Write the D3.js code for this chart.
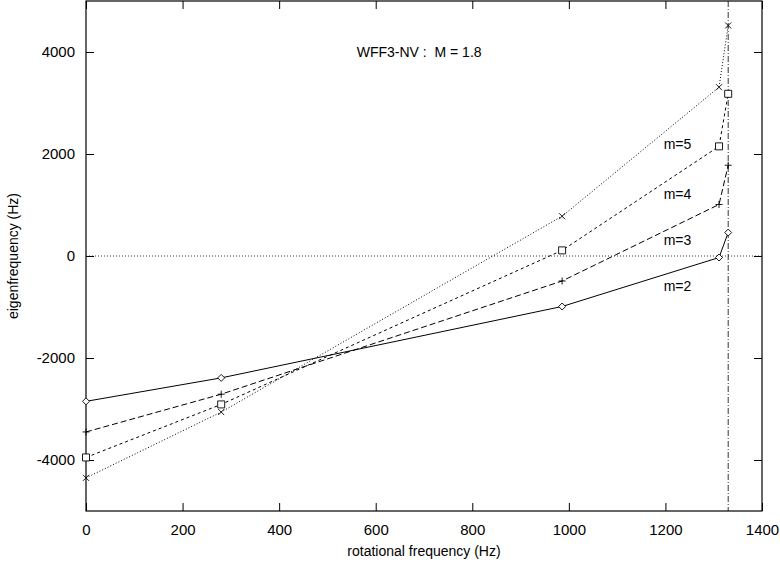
<!DOCTYPE html>
<html>
<head>
<meta charset="utf-8">
<script src="https://d3js.org/d3.v7.min.js"></script>
<style>
  body { margin: 0; background: #fff; }
  svg text { font-family: "Liberation Sans", Arial, Helvetica, sans-serif; fill: #000; }
</style>
</head>
<body>
<div id="chart"></div>
<script>

// Data
var rotFreq = [0, 280, 986, 1311, 1330];
var eigM2 = [-2850, -2390, -990, -30, 460];
var eigM3 = [-3450, -2710, -490, 1010, 1780];
var eigM4 = [-3950, -2910, 110, 2150, 3180];
var eigM5 = [-4350, -3060, 780, 3310, 4520];
var modeNames = ["m=2", "m=3", "m=4", "m=5"];
var xTicks = [0, 200, 400, 600, 800, 1000, 1200, 1400];
var yTicks = [-4000, -2000, 0, 2000, 4000];
var keplerFreq = 1330;
var titleText = "WFF3-NV :  M = 1.8";

var margin = {top: 1, right: 18, bottom: 52, left: 86};
var width = 780 - margin.left - margin.right,
    height = 563 - margin.top - margin.bottom;

var svg = d3.select("#chart").append("svg")
    .attr("width", 780)
    .attr("height", 563)
    .append("g")
    .attr("transform", "translate(" + margin.left + "," + margin.top + ")");

var x = d3.scaleLinear().domain([0, 1400]).range([0, width]);
var y = d3.scaleLinear().domain([-5000, 5000]).range([height, 0]);

// plain hyphen for negatives, like the original plot
var fmt = function(d) { return String(d); };

// Axes (gnuplot-style inward ticks on all four sides)
var tickLen = 8;
svg.append("g")
    .attr("transform", "translate(0," + height + ")")
    .call(d3.axisBottom(x).tickValues(xTicks).tickSize(-tickLen).tickPadding(tickLen + 5).tickFormat(fmt))
    .call(function(g) { g.select(".domain").remove(); });
svg.append("g")
    .call(d3.axisTop(x).tickValues(xTicks).tickSize(-tickLen).tickFormat(""))
    .call(function(g) { g.select(".domain").remove(); });
svg.append("g")
    .call(d3.axisLeft(y).tickValues(yTicks).tickSize(-tickLen).tickPadding(tickLen + 3).tickFormat(fmt))
    .call(function(g) { g.select(".domain").remove(); });
svg.append("g")
    .attr("transform", "translate(" + width + ",0)")
    .call(d3.axisRight(y).tickValues(yTicks).tickSize(-tickLen).tickFormat(""))
    .call(function(g) { g.select(".domain").remove(); });

svg.selectAll(".tick text").attr("font-size", 15).attr("font-family", "Liberation Sans, Arial, sans-serif");
svg.selectAll(".tick line").attr("stroke", "#000");

// Frame
svg.append("rect")
    .attr("x", 0).attr("y", 0)
    .attr("width", width).attr("height", height)
    .attr("fill", "none")
    .attr("stroke", "#000")
    .attr("stroke-width", 1.2);

// Zero line
svg.append("line")
    .attr("x1", 0).attr("x2", width)
    .attr("y1", y(0)).attr("y2", y(0))
    .attr("stroke", "#000").attr("stroke-width", 0.8)
    .attr("stroke-dasharray", "1,2");

// Kepler limit line
svg.append("line")
    .attr("x1", x(keplerFreq)).attr("x2", x(keplerFreq))
    .attr("y1", 0).attr("y2", height)
    .attr("stroke", "#000").attr("stroke-width", 0.8)
    .attr("stroke-dasharray", "6,2,1,2");

// Series
var series = [
    {name: modeNames[0], values: eigM2, dash: null, marker: "diamond"},
    {name: modeNames[1], values: eigM3, dash: "6,3", marker: "plus"},
    {name: modeNames[2], values: eigM4, dash: "3,3", marker: "square"},
    {name: modeNames[3], values: eigM5, dash: "1,2", marker: "cross"}
];

var line = d3.line()
    .x(function(d) { return x(d[0]); })
    .y(function(d) { return y(d[1]); });

var markerPath = {
    diamond: "M0,-3.5L3.5,0L0,3.5L-3.5,0Z",
    plus: "M-3.5,0L3.5,0M0,-3.5L0,3.5",
    square: "M-3.5,-3.5L3.5,-3.5L3.5,3.5L-3.5,3.5Z",
    cross: "M-3,-3L3,3M-3,3L3,-3"
};

series.forEach(function(s) {
    var pts = rotFreq.map(function(f, i) { return [f, s.values[i]]; });
    svg.append("path")
        .datum(pts)
        .attr("d", line)
        .attr("fill", "none")
        .attr("stroke", "#000")
        .attr("stroke-width", 1)
        .attr("stroke-dasharray", s.dash);
    svg.selectAll(null)
        .data(pts)
        .enter()
        .append("path")
        .attr("transform", function(d) { return "translate(" + x(d[0]) + "," + y(d[1]) + ")"; })
        .attr("d", markerPath[s.marker])
        .attr("fill", "#fff")
        .attr("fill-opacity", s.marker === "diamond" || s.marker === "square" ? 1 : 0)
        .attr("stroke", "#000")
        .attr("stroke-width", 0.9);
});

// Mode labels
var labelY = {"m=5": 2200, "m=4": 1220, "m=3": 310, "m=2": -590};
svg.selectAll(".mode-label")
    .data(modeNames)
    .enter()
    .append("text")
    .attr("class", "mode-label")
    .attr("x", x(1225))
    .attr("y", function(d) { return y(labelY[d]); })
    .attr("dy", "0.35em")
    .attr("text-anchor", "middle")
    .attr("font-size", 14)
    .text(function(d) { return d; });

// Title inside plot
svg.append("text")
    .attr("x", x(690))
    .attr("y", y(3990))
    .attr("dy", "0.35em")
    .attr("text-anchor", "middle")
    .attr("font-size", 14)
    .style("white-space", "pre")
    .text(titleText);

// Axis titles
svg.append("text")
    .attr("x", width / 2)
    .attr("y", height + 45)
    .attr("text-anchor", "middle")
    .attr("font-size", 14)
    .text("rotational frequency (Hz)");

svg.append("text")
    .attr("transform", "translate(" + (-68) + "," + (height / 2) + ")rotate(-90)")
    .attr("text-anchor", "middle")
    .attr("font-size", 14)
    .text("eigenfrequency (Hz)");

</script>
</body>
</html>
